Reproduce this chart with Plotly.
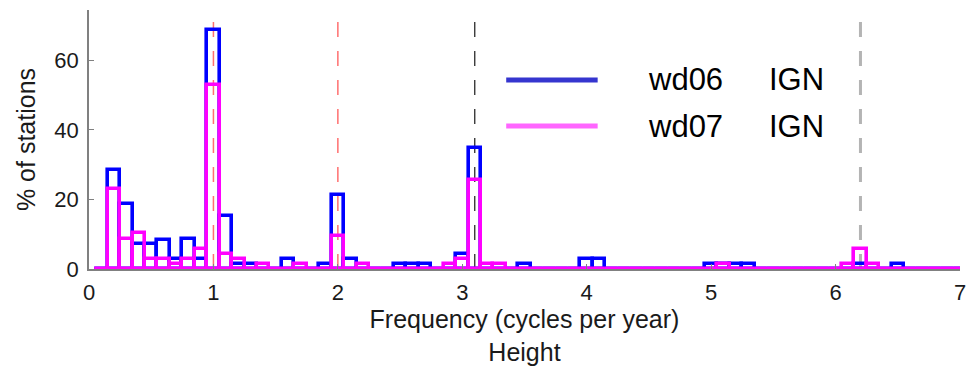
import numpy as np
import plotly.graph_objects as go

# ---------------- data ----------------
bin_centers = [round(0.1 * i, 1) for i in range(1, 71)]   # 0.1 .. 7.0
bin_width = 0.1

series_names = ["wd06", "wd07"]
source_name = "IGN"

# % of stations per frequency bin (non-zero bins only)
wd06_nonzero = {
    0.2: 28.5, 0.3: 18.8, 0.4: 7.2, 0.5: 7.2, 0.6: 8.3, 0.7: 2.9, 0.8: 8.7,
    0.9: 2.9, 1.0: 68.8, 1.1: 15.2, 1.2: 1.45, 1.3: 1.45, 1.6: 2.9, 1.9: 1.45,
    2.0: 21.2, 2.1: 2.9, 2.5: 1.45, 2.6: 1.45, 2.7: 1.45, 3.0: 4.35, 3.1: 34.8,
    3.5: 1.45, 4.0: 2.9, 4.1: 2.9, 5.0: 1.45, 5.1: 1.45, 5.2: 1.45, 5.3: 1.45,
    6.2: 1.45, 6.5: 1.45,
}
wd07_nonzero = {
    0.2: 23.0, 0.3: 8.7, 0.4: 10.5, 0.5: 2.9, 0.6: 2.9, 0.7: 1.45, 0.8: 2.9,
    0.9: 5.8, 1.0: 53.0, 1.1: 4.35, 1.2: 2.9, 1.4: 1.45, 1.7: 1.45, 2.0: 9.6,
    2.2: 1.45, 2.9: 1.45, 3.0: 2.9, 3.1: 25.5, 3.2: 1.45, 3.3: 1.45, 5.1: 1.45,
    6.1: 1.45, 6.2: 5.8, 6.3: 1.45,
}
wd06_values = [wd06_nonzero.get(c, 0.0) for c in bin_centers]
wd07_values = [wd07_nonzero.get(c, 0.0) for c in bin_centers]

ref_freqs = [1.0, 2.0, 3.1, 6.2]
ref_colors = ["#ff6f6f", "#ff6f6f", "#3a3a3a", "#b4b4b4"]
ref_widths = [1.5, 1.5, 1.4, 3.0]
ref_top = 72.5

x_ticks = [0, 1, 2, 3, 4, 5, 6, 7]
y_ticks = [0, 20, 40, 60]

bar_colors = ["#0000ff", "#ff00ff"]
legend_colors = ["#3535cf", "#ff66ff"]

# ---------------- figure ----------------
fig = go.Figure()

for vals, col, name in zip([wd06_values, wd07_values], bar_colors, series_names):
    fig.add_trace(go.Bar(
        x=bin_centers, y=vals, width=bin_width, name=name,
        marker=dict(color="rgba(0,0,0,0)", line=dict(color=col, width=3.6)),
        showlegend=False, cliponaxis=True,
    ))

# zero-height bins appear as a flat outline along the baseline
edges = [bin_centers[0] - bin_width / 2, bin_centers[-1] + bin_width / 2]
fig.add_trace(go.Scatter(x=edges, y=[0, 0], mode="lines",
                         line=dict(color=bar_colors[1], width=3.6),
                         showlegend=False, hoverinfo="skip"))

for f, c, w in zip(ref_freqs, ref_colors, ref_widths):
    fig.add_shape(type="line", x0=f, x1=f, y0=0, y1=ref_top, xref="x", yref="y",
                  line=dict(color=c, width=w, dash="15px,14px"), layer="below")

# legend drawn manually (long line samples as in the original)
leg_y = [0.730, 0.552]
for yy, col, name in zip(leg_y, legend_colors, series_names):
    fig.add_shape(type="line", xref="paper", yref="paper",
                  x0=0.479, x1=0.584, y0=yy, y1=yy,
                  line=dict(color=col, width=5))
    fig.add_annotation(xref="paper", yref="paper", x=0.640, y=yy, text=name,
                       showarrow=False, xanchor="left", yanchor="middle",
                       font=dict(family="Liberation Sans, Arial", size=31, color="black"))
    fig.add_annotation(xref="paper", yref="paper", x=0.778, y=yy, text=source_name,
                       showarrow=False, xanchor="left", yanchor="middle",
                       font=dict(family="Liberation Sans, Arial", size=31, color="black"))

tick_font = dict(family="Liberation Sans, Arial", size=22, color="#1a1a1a")
title_font = dict(family="Liberation Sans, Arial", size=25, color="#1a1a1a")

fig.update_layout(
    width=976, height=366,
    margin=dict(l=89, r=16, t=10, b=97, autoexpand=False),
    paper_bgcolor="white", plot_bgcolor="white",
    barmode="overlay", bargap=0,
    font=tick_font,
    xaxis=dict(range=[0, 7], tickvals=x_ticks, ticks="inside", ticklen=5,
               tickcolor="#808080", showline=True, linecolor="#808080", linewidth=1.5,
               showgrid=False, zeroline=False, mirror=False, tickfont=tick_font,
               ticklabelstandoff=3, automargin=False,
               title=dict(text="Frequency (cycles per year)<br>Height", standoff=3,
                          font=title_font)),
    yaxis=dict(range=[0, 74.5], tickvals=y_ticks, ticks="inside", ticklen=5,
               tickcolor="#808080", showline=True, linecolor="#808080", linewidth=1.5,
               showgrid=False, zeroline=False, tickfont=tick_font,
               ticklabelstandoff=4, automargin=False,
               title=dict(text="% of stations", standoff=12, font=title_font)),
)

fig.write_html("out.html")
